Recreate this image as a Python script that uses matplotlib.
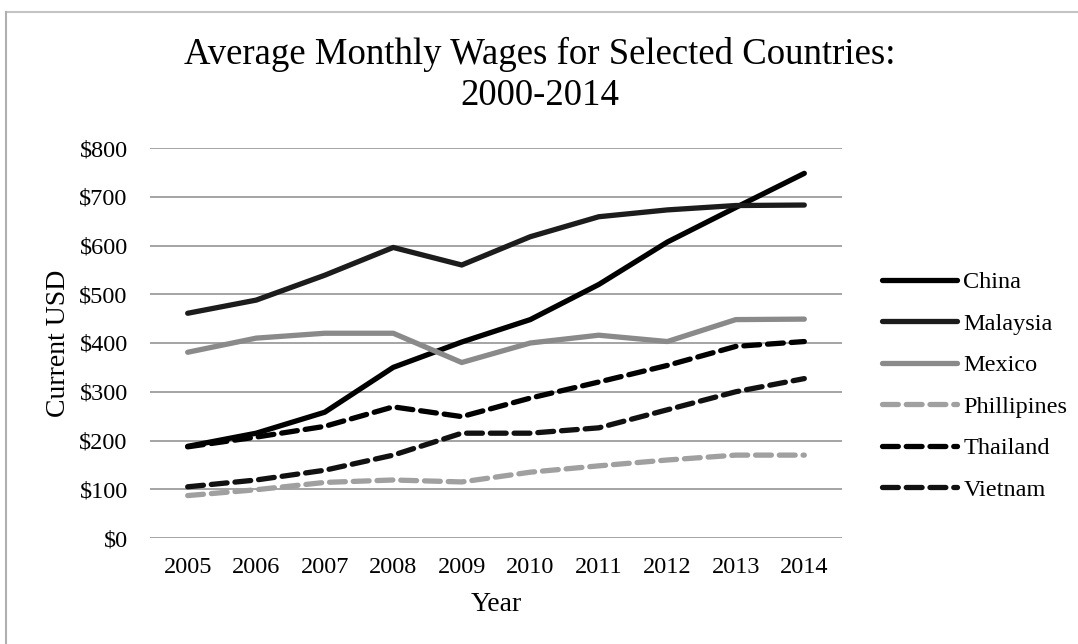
import matplotlib.pyplot as plt
from matplotlib.lines import Line2D

# Data
years = [2005, 2006, 2007, 2008, 2009, 2010, 2011, 2012, 2013, 2014]
china = [188, 215, 258, 350, 402, 448, 520, 607, 678, 748]
malaysia = [461, 488, 539, 596, 560, 618, 659, 673, 682, 683]
mexico = [381, 410, 420, 420, 360, 400, 416, 403, 448, 449]
phillipines = [87, 99, 114, 119, 115, 135, 148, 160, 170, 170]
thailand = [187, 207, 229, 269, 249, 287, 320, 354, 393, 403]
vietnam = [105, 119, 139, 170, 215, 215, 226, 263, 300, 327]
yticks = [0, 100, 200, 300, 400, 500, 600, 700, 800]

plt.rcParams['font.family'] = ['Liberation Serif', 'DejaVu Serif']

W, H = 1078, 644
fig = plt.figure(figsize=(W / 100, H / 100), dpi=100)
ax = fig.add_axes([150 / W, 1 - 538 / H, (842 - 150) / W, (538 - 148) / H])

# Chart area border (only top and left edges are visible in the scan)
fig.lines.append(Line2D([6 / W, 1], [1 - 12 / H, 1 - 12 / H], transform=fig.transFigure,
                        color='#c4c4c4', lw=1.5))
fig.lines.append(Line2D([6 / W, 6 / W], [0, 1 - 12 / H], transform=fig.transFigure,
                        color='#b0b0b0', lw=1.5))

lw = 3.8
dash = (3.0, 1.5)
ax.plot(years, china, color='#000000', lw=lw, label='China', solid_capstyle='round')
ax.plot(years, malaysia, color='#1c1c1c', lw=lw, label='Malaysia', solid_capstyle='round')
ax.plot(years, mexico, color='#8a8a8a', lw=lw, label='Mexico', solid_capstyle='round')
ax.plot(years, phillipines, color='#a0a0a0', lw=lw, label='Phillipines',
        dashes=dash, dash_capstyle='round')
ax.plot(years, thailand, color='#000000', lw=lw, label='Thailand',
        dashes=dash, dash_capstyle='round')
ax.plot(years, vietnam, color='#111111', lw=lw, label='Vietnam',
        dashes=dash, dash_capstyle='round')

ax.set_xlim(2004.45, 2014.55)
ax.set_ylim(0, 800)
ax.set_yticks(yticks)
ax.set_yticklabels(['$' + str(v) for v in yticks])
ax.set_xticks(years)
ax.set_xticklabels([str(y) for y in years])
ax.tick_params(axis='both', length=0, labelsize=17.5)
ax.tick_params(axis='y', pad=16)
ax.tick_params(axis='x', pad=14)
ax.yaxis.grid(True, color='#8c8c8c', linewidth=1.1)
ax.set_axisbelow(True)
for s in ax.spines.values():
    s.set_visible(False)

ax.set_xlabel('Year', fontsize=20, labelpad=10)
ax.set_ylabel('Current USD', fontsize=20, labelpad=6)

fig.text(540 / W, 1 - 64 / H, 'Average Monthly Wages for Selected Countries:',
         ha='center', va='baseline', fontsize=26.5)
fig.text(540 / W, 1 - 105 / H, '2000-2014', ha='center', va='baseline', fontsize=26.5)

ax.legend(loc='center left', bbox_to_anchor=(860 / W, 1 - 386 / H),
          bbox_transform=fig.transFigure, frameon=False, fontsize=17.5,
          handlelength=3.1, handletextpad=0.25, labelspacing=0.8)

fig.savefig('out.png', dpi=100)
